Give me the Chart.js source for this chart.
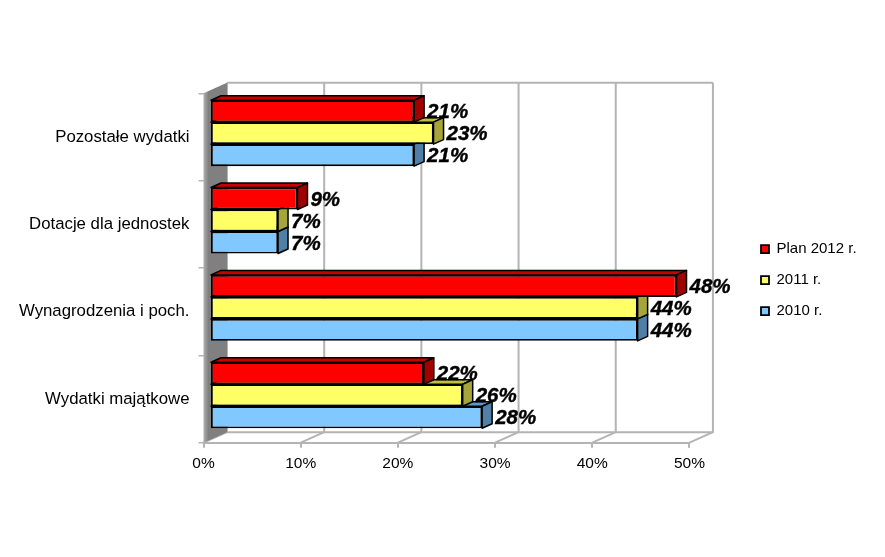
<!DOCTYPE html>
<html>
<head>
<meta charset="utf-8">
<style>
  html, body { margin: 0; padding: 0; background: #fff; }
  canvas { display: block; }
</style>
<script src="https://cdn.jsdelivr.net/npm/chart.js@4"></script>
</head>
<body>
<canvas id="chart1" width="885" height="557"></canvas>
<script>
const categories = ["Pozostałe wydatki", "Dotacje dla jednostek", "Wynagrodzenia i poch.", "Wydatki majątkowe"];
const plan2012 = [21, 9, 48, 22];
const values2011 = [23, 7, 44, 26];
const values2010 = [21, 7, 44, 28];
const seriesNames = ["Plan 2012 r.", "2011 r.", "2010 r."];
const frontColors = ["#ff0000", "#ffff66", "#80c8ff"];
const sideColors = ["#a00000", "#a5a53c", "#5080a8"];
const topColors = ["#c80000", "#c0c040", "#5f96c8"];
const xTicks = [0, 10, 20, 30, 40, 50];

const gridColor = "#b4b4b4";
const fontName = "'Liberation Sans', Arial, sans-serif";

// depth of the fake 3D box, and of the bars inside it
const wallX = 23.5, wallY = 10.5;
const barShiftX = 6.5, barShiftY = 3.8;
const barDepthX = 10, barDepthY = 4.5;

function face(ctx, pts, fill) {
  ctx.beginPath();
  ctx.moveTo(pts[0][0], pts[0][1]);
  for (let i = 1; i < pts.length; i++) ctx.lineTo(pts[i][0], pts[i][1]);
  ctx.closePath();
  ctx.fillStyle = fill;
  ctx.fill();
  ctx.stroke();
}

const box3d = {
  id: "box3d",
  afterLayout(chart) {
    // legend is placed by hand, it does not follow the plot
    const l = chart.legend, dx = 761 - (l.left + 16), dy = -45;
    l.top += dy;
    l.bottom += dy;
    l.left += dx;
    l.right += dx;
  },
  beforeDatasetsDraw(chart) {
    const ctx = chart.ctx, a = chart.chartArea, xs = chart.scales.x;
    ctx.save();
    ctx.lineWidth = 2;
    ctx.strokeStyle = gridColor;
    // back wall lines and floor lines
    xTicks.forEach(v => {
      const x = xs.getPixelForValue(v);
      ctx.beginPath();
      ctx.moveTo(x, a.bottom);
      ctx.lineTo(x + wallX, a.bottom - wallY);
      ctx.lineTo(x + wallX, a.top - wallY);
      ctx.stroke();
    });
    ctx.beginPath();
    ctx.moveTo(a.left + wallX, a.top - wallY);
    ctx.lineTo(a.right + wallX, a.top - wallY);
    ctx.moveTo(a.left + wallX, a.bottom - wallY);
    ctx.lineTo(a.right + wallX, a.bottom - wallY);
    ctx.stroke();
    // left wall
    const g = ctx.createLinearGradient(a.left, 0, a.left + 5, 0);
    g.addColorStop(0, "#b0b0b0");
    g.addColorStop(1, "#808080");
    ctx.fillStyle = g;
    ctx.beginPath();
    ctx.moveTo(a.left, a.top);
    ctx.lineTo(a.left + wallX, a.top - wallY);
    ctx.lineTo(a.left + wallX, a.bottom - wallY);
    ctx.lineTo(a.left, a.bottom);
    ctx.closePath();
    ctx.fill();
    ctx.restore();
    // bars live a little inside the box
    ctx.save();
    ctx.translate(barShiftX, -barShiftY);
  },
  beforeDatasetDraw(chart, args) {
    const ctx = chart.ctx, i = args.index;
    ctx.save();
    ctx.lineWidth = 1.5;
    ctx.strokeStyle = "#000";
    ctx.lineJoin = "round";
    chart.getDatasetMeta(i).data.forEach(bar => {
      const top = bar.y - bar.height / 2, bot = bar.y + bar.height / 2;
      face(ctx, [[bar.base, top], [bar.x, top], [bar.x + barDepthX, top - barDepthY], [bar.base + barDepthX, top - barDepthY]], topColors[i]);
      face(ctx, [[bar.x, top], [bar.x + barDepthX, top - barDepthY], [bar.x + barDepthX, bot - barDepthY], [bar.x, bot]], sideColors[i]);
    });
    ctx.restore();
  },
  afterDatasetsDraw(chart) {
    const ctx = chart.ctx;
    ctx.restore();
    ctx.save();
    ctx.font = "italic bold 20.5px " + fontName;
    ctx.fillStyle = "#000";
    ctx.strokeStyle = "#000";
    ctx.lineWidth = 0.4;
    ctx.textBaseline = "middle";
    ctx.textAlign = "left";
    [2, 1, 0].forEach(i => {
      const ds = chart.data.datasets[i];
      chart.getDatasetMeta(i).data.forEach((bar, k) => {
        const tx = bar.x + barShiftX + 13, ty = bar.y - barShiftY + 1.5;
        ctx.fillText(ds.data[k] + "%", tx, ty);
        ctx.strokeText(ds.data[k] + "%", tx, ty);
      });
    });
    ctx.restore();
  }
};

new Chart(document.getElementById("chart1").getContext("2d"), {
  type: "bar",
  data: {
    labels: categories,
    datasets: [plan2012, values2011, values2010].map((d, i) => ({
      label: seriesNames[i],
      data: d,
      backgroundColor: frontColors[i],
      borderColor: "#000",
      borderWidth: 1.8,
      borderSkipped: false,
      clip: false,
      categoryPercentage: 0.755,
      barPercentage: 1
    }))
  },
  options: {
    indexAxis: "y",
    responsive: false,
    animation: false,
    devicePixelRatio: 1,
    layout: { padding: { left: 0, top: 93.3, right: 74, bottom: 0 } },
    plugins: {
      tooltip: { enabled: false },
      legend: {
        position: "right",
        align: "center",
        labels: {
          boxWidth: 8,
          boxHeight: 8,
          padding: 16,
          color: "#000",
          font: { family: fontName, size: 15 }
        }
      }
    },
    scales: {
      x: {
        min: 0,
        max: 50,
        afterBuildTicks(s) { s.ticks = xTicks.map(v => ({ value: v })); },
        afterFit(s) { s.height = 114.3; },
        border: { display: true, color: gridColor, width: 2 },
        grid: { drawOnChartArea: false, color: gridColor, lineWidth: 2, tickLength: 5 },
        ticks: {
          color: "#000",
          padding: 7,
          maxRotation: 0,
          font: { family: fontName, size: 15.5 },
          callback: v => v + "%"
        }
      },
      y: {
        afterFit(s) { s.width = 203.5; },
        border: { display: false },
        grid: { drawOnChartArea: false, color: gridColor, lineWidth: 1.5, tickLength: 5 },
        ticks: {
          color: "#000",
          padding: 9,
          font: { family: fontName, size: 16.8 }
        }
      }
    }
  },
  plugins: [box3d]
});
</script>
</body>
</html>
